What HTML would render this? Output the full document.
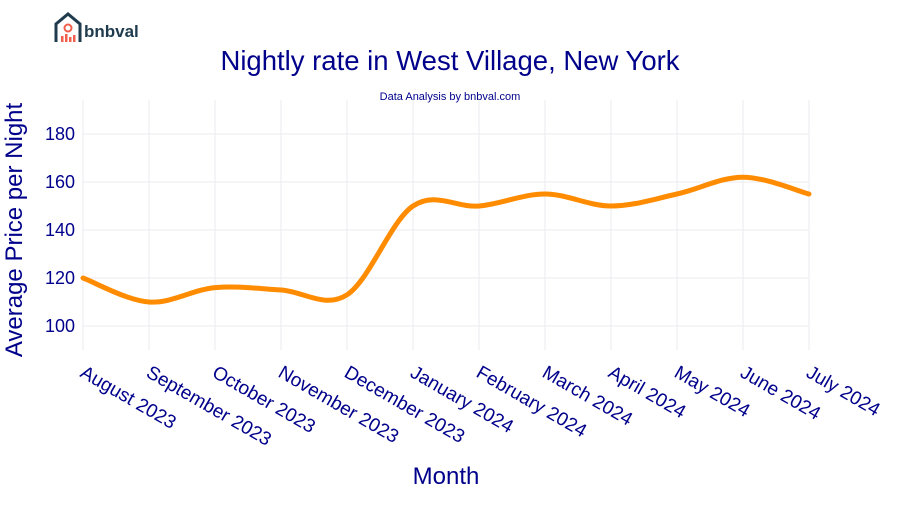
<!DOCTYPE html>
<html><head><meta charset="utf-8"><style>
body{margin:0;background:#fff;}
svg text{font-family:"Liberation Sans",Arial,sans-serif;}
</style></head><body>
<svg width="900" height="500" xmlns="http://www.w3.org/2000/svg">
<g>
<path d="M56 42 V24 L68 14 L80 24 V42" fill="none" stroke="#1f3b4d" stroke-width="3"/>
<circle cx="68" cy="28" r="3.5" fill="none" stroke="#f0604d" stroke-width="2"/>
<rect x="61" y="36" width="2.5" height="6" fill="#f0604d"/><rect x="65" y="34" width="2.5" height="8" fill="#f0604d"/><rect x="69" y="37" width="2.5" height="5" fill="#f0604d"/><rect x="73" y="35" width="2.5" height="7" fill="#f0604d"/>
<text x="84" y="37" font-size="17" font-weight="bold" fill="#1f3b4d">bnbval</text>
</g>
<text x="450" y="70" text-anchor="middle" font-size="27.5" fill="#00008b">Nightly rate in West Village, New York</text>
<text x="450" y="100" text-anchor="middle" font-size="11" fill="#00008b">Data Analysis by bnbval.com</text>
<g id="grid"></g>
<g id="yticks"></g>
<g id="xticks"></g>
<path id="line" fill="none" stroke="#ff8c00" stroke-width="5" stroke-linecap="round"/>
<text transform="translate(22,230) rotate(-90)" text-anchor="middle" font-size="24" fill="#00008b">Average Price per Night</text>
<text x="446" y="484" text-anchor="middle" font-size="24" fill="#00008b">Month</text>
</svg>
<script>
const months=["August 2023","September 2023","October 2023","November 2023","December 2023","January 2024","February 2024","March 2024","April 2024","May 2024","June 2024","July 2024"];
const prices=[120,110,116,115,113,150,150,155,150,155,162,155];
const yTicks=[100,120,140,160,180];
const NS="http://www.w3.org/2000/svg";
const plotX0=83,plotX1=809,plotTop=100,plotBot=350;
const xs=i=>plotX0+i*(plotX1-plotX0)/(months.length-1);
const ys=v=>326-(v-100)*2.4;
const grid=document.getElementById('grid'),yt=document.getElementById('yticks'),xt=document.getElementById('xticks');
function mk(t,a,p){const e=document.createElementNS(NS,t);for(const k in a)e.setAttribute(k,a[k]);p.appendChild(e);return e;}
yTicks.forEach(v=>{
 const l=mk('line',{x1:plotX0,x2:plotX1,y1:ys(v),y2:ys(v),stroke:'#ebebf0','stroke-width':1},grid);
 
 
 const t=mk('text',{x:plotX0-8,y:ys(v)+6,'text-anchor':'end','font-size':18,fill:'#00008b'},yt);
 t.textContent=v;
 
 
});
months.forEach((m,i)=>{
 const l=mk('line',{x1:xs(i),x2:xs(i),y1:plotTop,y2:plotBot,stroke:'#ebebf0','stroke-width':1},grid);
 
 
 const t=mk('text',{transform:`translate(${xs(i)-4},${376}) rotate(30)`,'font-size':19,fill:'#00008b'},xt);
 t.textContent=m;
 
 
});
const pts=prices.map((v,i)=>[xs(i),ys(v)]);
let d=`M${pts[0][0]},${pts[0][1]}`;
const s=0.17;
for(let i=0;i<pts.length-1;i++){
 const p0=pts[Math.max(0,i-1)],p1=pts[i],p2=pts[i+1],p3=pts[Math.min(pts.length-1,i+2)];
 const c1=[p1[0]+(p2[0]-p0[0])*s,p1[1]+(p2[1]-p0[1])*s];
 const c2=[p2[0]-(p3[0]-p1[0])*s,p2[1]-(p3[1]-p1[1])*s];
 d+=` C${c1[0]},${c1[1]} ${c2[0]},${c2[1]} ${p2[0]},${p2[1]}`;
}
document.getElementById('line').setAttribute('d',d);
</script>
</body></html>
